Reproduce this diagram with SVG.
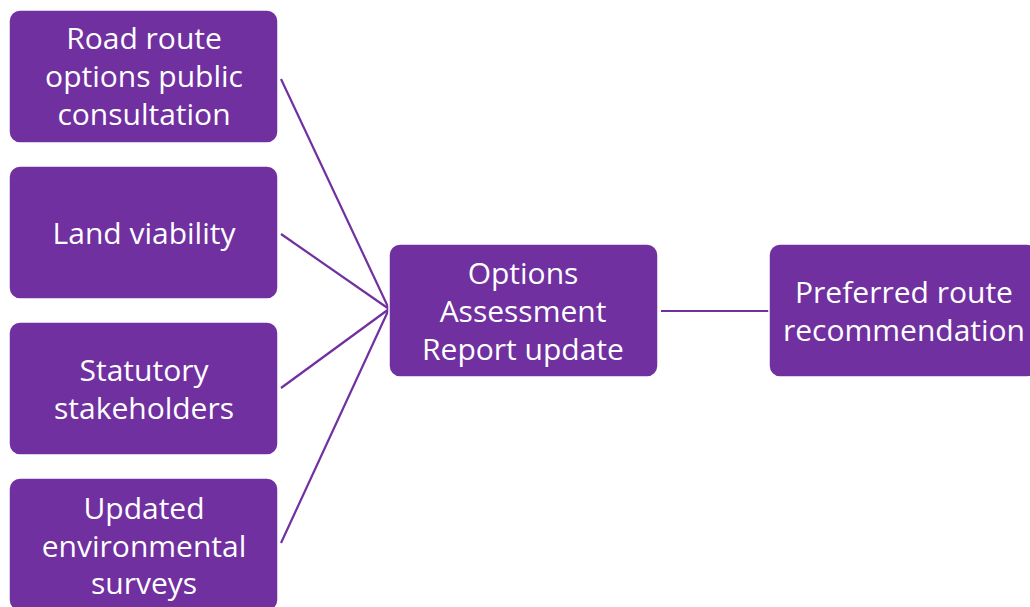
<svg xmlns="http://www.w3.org/2000/svg" width="1030" height="607" viewBox="0 0 1030 607">
<style>
.box{fill:#7030A0;stroke:#ffffff;stroke-width:1.5}
.t{font-family:"Open Sans","Liberation Sans",sans-serif;font-size:30px;fill:#ffffff;text-anchor:middle}
.c{stroke:#7030A0;stroke-width:2.2;fill:none}
</style>
<rect width="1030" height="607" fill="#ffffff"/>
<g id="connectors">
<line class="c" x1="281" y1="79" x2="389" y2="309"/>
<line class="c" x1="281" y1="234" x2="389" y2="309"/>
<line class="c" x1="281" y1="388" x2="389" y2="309"/>
<line class="c" x1="281" y1="543" x2="389" y2="309"/>
<line class="c" x1="661" y1="311" x2="769" y2="311"/>
</g>
<g id="node-road">
<rect class="box" x="9" y="10" width="269" height="133" rx="11"/>
<text class="t" x="144" y="49">Road route</text>
<text class="t" x="144" y="87">options public</text>
<text class="t" x="144" y="125">consultation</text>
</g>
<g id="node-land">
<rect class="box" x="9" y="166" width="269" height="133" rx="11"/>
<text class="t" x="144" y="244">Land viability</text>
</g>
<g id="node-statutory">
<rect class="box" x="9" y="322" width="269" height="133" rx="11"/>
<text class="t" x="144" y="381">Statutory</text>
<text class="t" x="144" y="419">stakeholders</text>
</g>
<g id="node-env">
<rect class="box" x="9" y="478" width="269" height="133" rx="11"/>
<text class="t" x="144" y="519">Updated</text>
<text class="t" x="144" y="557">environmental</text>
<text class="t" x="144" y="594">surveys</text>
</g>
<g id="node-oar">
<rect class="box" x="389" y="244" width="269" height="133" rx="11"/>
<text class="t" x="523" y="284">Options</text>
<text class="t" x="523" y="322">Assessment</text>
<text class="t" x="523" y="360">Report update</text>
</g>
<g id="node-preferred">
<rect class="box" x="769" y="244" width="269" height="133" rx="11"/>
<text class="t" x="904" y="303">Preferred route</text>
<text class="t" x="904" y="341">recommendation</text>
</g>
</svg>
